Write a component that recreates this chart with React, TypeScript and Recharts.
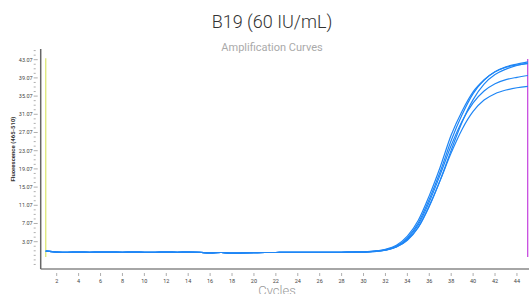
import React from "react";
import { LineChart, Line, XAxis, YAxis, ReferenceLine } from "recharts";

const cycles = [1,2,3,4,5,6,7,8,9,10,11,12,13,14,15,16,17,18,19,20,21,22,23,24,25,26,27,28,29,30,31,32,33,34,35,36,37,38,39,40,41,42,43,44,45];

const baseline = [1.0,0.8,0.75,0.8,0.75,0.8,0.78,0.75,0.78,0.75,0.75,0.78,0.75,0.8,0.75,0.6,0.7,0.55,0.6,0.65,0.7,0.7,0.72,0.72,0.72,0.75,0.75,0.75,0.8];

const tailA = [0.85,1.0,1.4,2.3,4.3,7.8,13.2,19.5,26.5,31.8,36.0,38.6,40.4,41.5,42.1,42.6];
const tailB = [0.85,1.0,1.3,2.1,3.9,7.2,12.4,18.5,25.3,31.0,35.6,38.6,40.4,41.4,41.9,42.2];
const tailC = [0.8,0.95,1.25,2.0,3.7,6.8,11.8,17.8,24.2,29.6,33.6,36.2,37.8,38.7,39.2,39.6];
const tailD = [0.8,0.9,1.2,1.9,3.5,6.3,11.0,16.6,22.6,27.8,31.7,34.2,35.6,36.4,36.9,37.2];
const tailE = [0.8,0.95,1.2,1.9,3.4,6.2,10.8,16.6,23.2,29.4,34.3,37.7,39.8,41.0,41.8,42.3];

const seriesA = [...baseline, ...tailA];
const seriesB = [...baseline, ...tailB];
const seriesC = [...baseline, ...tailC];
const seriesD = [...baseline, ...tailD];
const seriesE = [...baseline, ...tailE];

const xTicks = [2,4,6,8,10,12,14,16,18,20,22,24,26,28,30,32,34,36,38,40,42,44];
const yMajorTicks = [3.07,7.07,11.07,15.07,19.07,23.07,27.07,31.07,35.07,39.07,43.07];
const yMinorTicks = [-1.93,-0.93,0.07,1.07,2.07,4.07,5.07,6.07,8.07,9.07,10.07,12.07,13.07,14.07,16.07,17.07,18.07,20.07,21.07,22.07,24.07,25.07,26.07,28.07,29.07,30.07,32.07,33.07,34.07,36.07,37.07,38.07,40.07,41.07,42.07,44.07,45.07];

const data = cycles.map((c, i) => ({
  cycle: c,
  a: seriesA[i],
  b: seriesB[i],
  c: seriesC[i],
  d: seriesD[i],
  e: seriesE[i],
}));

const yTicks = [...yMinorTicks, ...yMajorTicks].sort((p, q) => p - q);

const YTick = (props: any) => {
  const { x, y, payload } = props;
  const major = yMajorTicks.includes(payload.value);
  return (
    <g>
      <line x1={x + 1} x2={x + 1 + (major ? 4 : 2)} y1={y} y2={y} stroke="#999" strokeWidth={0.8} />
      {major && (
        <text x={x} y={y} dy={2} textAnchor="end" fontSize={5.5} fill="#444" fontFamily="Roboto, sans-serif">
          {payload.value.toFixed(2)}
        </text>
      )}
    </g>
  );
};

const XTick = (props: any) => {
  const { x, y, payload } = props;
  return (
    <g>
      <line x1={x} x2={x} y1={y - 4} y2={y - 1} stroke="#999" strokeWidth={0.8} />
      <text x={x} y={y + 6} textAnchor="middle" fontSize={5.5} fill="#444" fontFamily="Roboto, sans-serif">
        {payload.value}
      </text>
    </g>
  );
};

const blue = "#1f86f5";

export default function App() {
  return (
    <div style={{ position: "absolute", left: 0, top: 0, width: 529, height: 294, background: "#fff", overflow: "hidden" }}>
      <LineChart width={529} height={294} data={data} margin={{ top: 49, right: 0, bottom: 0, left: 0 }}>
        <text x={272} y={28} textAnchor="middle" fontSize={18} fontWeight={300} fill="#333" fontFamily="Roboto, sans-serif">
          B19 (60 IU/mL)
        </text>
        <text x={272} y={51} textAnchor="middle" fontSize={11} fill="#aaa" fontFamily="Roboto, sans-serif">
          Amplification Curves
        </text>
        <text x={277} y={295} textAnchor="middle" fontSize={13} fontWeight={300} fill="#999" fontFamily="Roboto, sans-serif">
          Cycles
        </text>
        <text
          x={15}
          y={149}
          transform="rotate(-90 15 149)"
          textAnchor="middle"
          fontSize={6}
          fontWeight="bold"
          fill="#333"
          fontFamily="Roboto, sans-serif"
        >
          Fluorescence (465-510)
        </text>
        <XAxis
          dataKey="cycle"
          type="number"
          domain={[0.54, 45.1]}
          ticks={xTicks}
          interval={0}
          height={25}
          axisLine={{ stroke: "#888", strokeWidth: 1.5 }}
          tickLine={false}
          tick={<XTick />}
        />
        <YAxis
          type="number"
          domain={[-2.93, 45.42]}
          ticks={yTicks}
          interval={0}
          width={40.7}
          axisLine={{ stroke: "#666", strokeWidth: 1.5 }}
          tickLine={false}
          tick={<YTick />}
          allowDataOverflow
        />
        <ReferenceLine
          segment={[{ x: 1, y: -0.3 }, { x: 1, y: 43.4 }]}
          stroke="#dce775"
          strokeWidth={1.3}
        />
        <ReferenceLine
          segment={[{ x: 44.98, y: -0.3 }, { x: 44.98, y: 43.2 }]}
          stroke="#c94ee0"
          strokeWidth={1.3}
        />
        <Line type="monotone" dataKey="d" stroke={blue} strokeWidth={1.2} dot={false} isAnimationActive={false} />
        <Line type="monotone" dataKey="c" stroke={blue} strokeWidth={1.2} dot={false} isAnimationActive={false} />
        <Line type="monotone" dataKey="e" stroke={blue} strokeWidth={1.2} dot={false} isAnimationActive={false} />
        <Line type="monotone" dataKey="b" stroke={blue} strokeWidth={1.2} dot={false} isAnimationActive={false} />
        <Line type="monotone" dataKey="a" stroke={blue} strokeWidth={1.2} dot={false} isAnimationActive={false} />
      </LineChart>
    </div>
  );
}
